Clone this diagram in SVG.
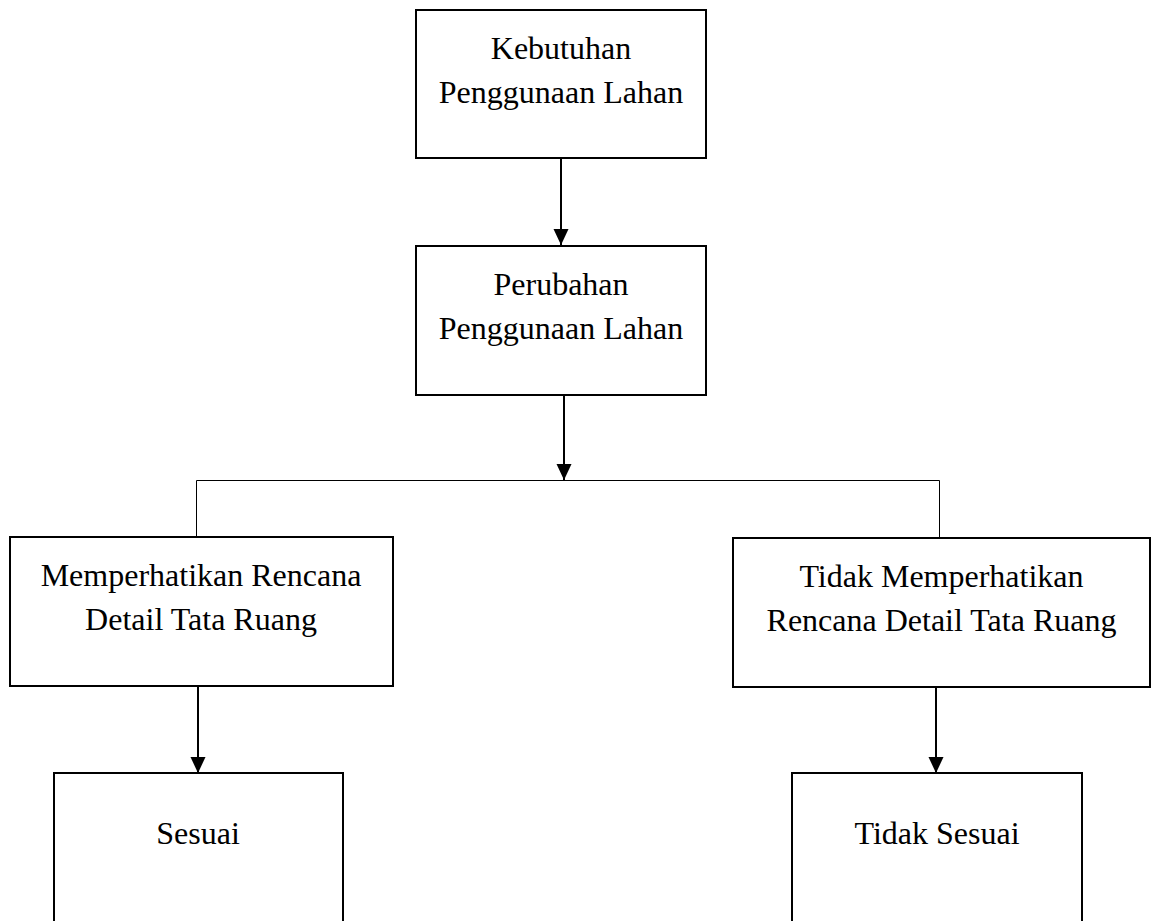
<svg xmlns="http://www.w3.org/2000/svg" width="1151" height="921" viewBox="0 0 1151 921">
<style>
.box{fill:#fff;stroke:#000;stroke-width:2}
.lbl{font-family:"Liberation Serif","Times New Roman",serif;font-size:32px;fill:#000;text-anchor:middle}
.arr{stroke:#000;stroke-width:2;fill:none}
.thin{stroke:#000;stroke-width:1;fill:none}
</style>
<defs>
<marker id="ah" markerUnits="userSpaceOnUse" markerWidth="16" markerHeight="16" refX="16" refY="7.5" orient="auto">
<path d="M0,0 L16,7.5 L0,15 z" fill="#000"/>
</marker>
</defs>
<rect width="1151" height="921" fill="#fff"/>
<g id="connectors">
<line class="arr" x1="561" y1="158" x2="561" y2="245" marker-end="url(#ah)"/>
<line class="arr" x1="564" y1="395" x2="564" y2="480" marker-end="url(#ah)"/>
<polyline class="thin" points="196.5,537 196.5,480.5 939.5,480.5 939.5,538"/>
<line class="arr" x1="198" y1="686" x2="198" y2="773" marker-end="url(#ah)"/>
<line class="arr" x1="936" y1="687" x2="936" y2="773" marker-end="url(#ah)"/>
</g>
<g id="n1">
<rect class="box" x="416" y="10" width="290" height="148"/>
<text class="lbl" x="561" y="59">Kebutuhan</text>
<text class="lbl" x="561" y="103">Penggunaan Lahan</text>
</g>
<g id="n2">
<rect class="box" x="416" y="246" width="290" height="149"/>
<text class="lbl" x="561" y="295">Perubahan</text>
<text class="lbl" x="561" y="339">Penggunaan Lahan</text>
</g>
<g id="n3">
<rect class="box" x="10" y="537" width="383" height="149"/>
<text class="lbl" x="201" y="586">Memperhatikan Rencana</text>
<text class="lbl" x="201" y="630">Detail Tata Ruang</text>
</g>
<g id="n4">
<rect class="box" x="733" y="538" width="417" height="149"/>
<text class="lbl" x="941.5" y="587">Tidak Memperhatikan</text>
<text class="lbl" x="941.5" y="631">Rencana Detail Tata Ruang</text>
</g>
<g id="n5">
<rect class="box" x="54" y="773" width="289" height="170"/>
<text class="lbl" x="198" y="844">Sesuai</text>
</g>
<g id="n6">
<rect class="box" x="792" y="773" width="290" height="170"/>
<text class="lbl" x="937" y="844">Tidak Sesuai</text>
</g>
</svg>
